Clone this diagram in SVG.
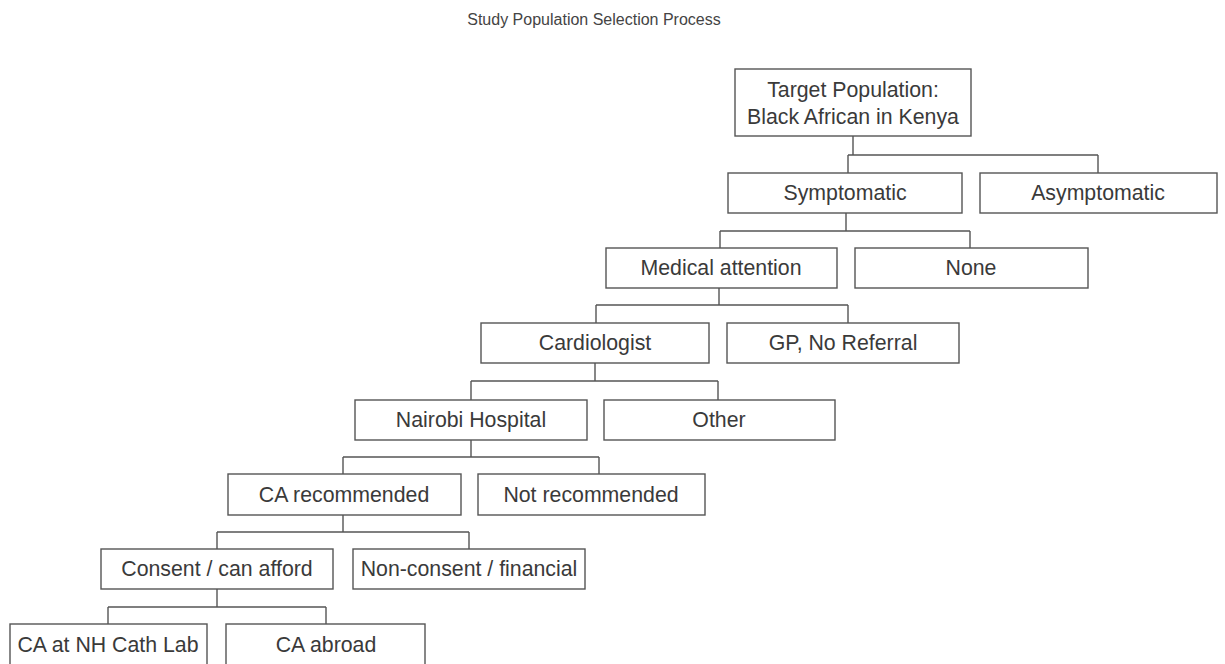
<svg xmlns="http://www.w3.org/2000/svg" width="1225" height="664" viewBox="0 0 1225 664">
<style>
.box{fill:#fff;stroke:#555;stroke-width:1.4}
.t{font-family:"Liberation Sans",Arial,sans-serif;font-size:21.3px;fill:#3a3a3a;text-anchor:middle;dominant-baseline:central}
.title{font-family:"Liberation Sans",Arial,sans-serif;font-size:16px;fill:#444;text-anchor:middle}
.c{fill:none;stroke:#555;stroke-width:1.4}
</style>
<rect width="1225" height="664" fill="#fff"/>
<text class="title" x="594" y="25">Study Population Selection Process</text>
<g id="connectors" class="c">
<path d="M853,136V155M848,155H1098M848,155V173M1098,155V173"/>
<path d="M846,213V231M720,231H970M720,231V248M970,231V248"/>
<path d="M719,288V305M596,305H848M596,305V323M848,305V323"/>
<path d="M595,363V381M471,381H718M471,381V400M718,381V400"/>
<path d="M471,440V457M343,457H599M343,457V474M599,457V474"/>
<path d="M343,515V532M217,532H469M217,532V549M469,532V549"/>
<path d="M217,589V607M108,607H326M108,607V624M326,607V624"/>
</g>
<g id="target"><rect class="box" x="735" y="69" width="236" height="67"/><text class="t" x="853" y="90">Target Population:</text><text class="t" x="853" y="117">Black African in Kenya</text></g>
<g id="symptomatic"><rect class="box" x="728" y="173" width="234" height="40"/><text class="t" x="845" y="193">Symptomatic</text></g>
<g id="asymptomatic"><rect class="box" x="980" y="173" width="237" height="40"/><text class="t" x="1098" y="193">Asymptomatic</text></g>
<g id="medical"><rect class="box" x="606" y="248" width="231" height="40"/><text class="t" x="721" y="268">Medical attention</text></g>
<g id="none"><rect class="box" x="855" y="248" width="233" height="40"/><text class="t" x="971" y="268">None</text></g>
<g id="cardiologist"><rect class="box" x="481" y="323" width="228" height="40"/><text class="t" x="595" y="343">Cardiologist</text></g>
<g id="gp"><rect class="box" x="727" y="323" width="232" height="40"/><text class="t" x="843" y="343">GP, No Referral</text></g>
<g id="nairobi"><rect class="box" x="355" y="400" width="232" height="40"/><text class="t" x="471" y="420">Nairobi Hospital</text></g>
<g id="other"><rect class="box" x="604" y="400" width="231" height="40"/><text class="t" x="719" y="420">Other</text></g>
<g id="ca-recommended"><rect class="box" x="228" y="474" width="233" height="41"/><text class="t" x="344" y="495">CA recommended</text></g>
<g id="not-recommended"><rect class="box" x="478" y="474" width="227" height="41"/><text class="t" x="591" y="495">Not recommended</text></g>
<g id="consent"><rect class="box" x="101" y="549" width="232" height="40"/><text class="t" x="217" y="569">Consent / can afford</text></g>
<g id="non-consent"><rect class="box" x="353" y="549" width="232" height="40"/><text class="t" x="469" y="569">Non-consent / financial</text></g>
<g id="ca-nh"><rect class="box" x="10" y="624" width="197" height="44"/><text class="t" x="108" y="645">CA at NH Cath Lab</text></g>
<g id="ca-abroad"><rect class="box" x="226" y="624" width="199" height="44"/><text class="t" x="326" y="645">CA abroad</text></g>
</svg>
